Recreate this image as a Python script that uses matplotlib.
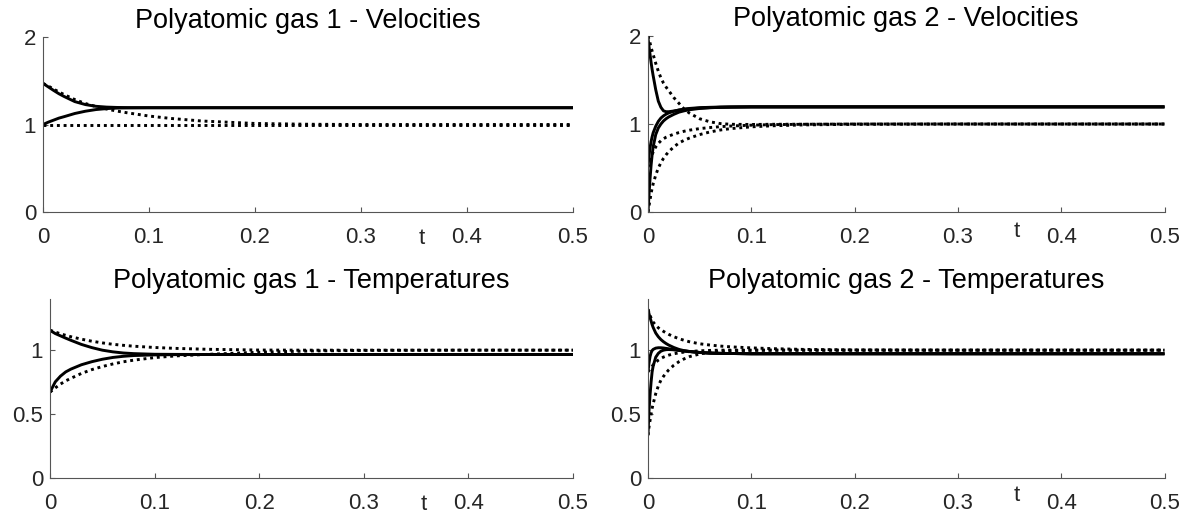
import matplotlib
matplotlib.use("Agg")
import matplotlib.pyplot as plt

plt.rcParams['font.family'] = ['Liberation Sans', 'DejaVu Sans']

# time grids (finer near t=0 where the relaxation is fast)
t_slow = [0, 0.005, 0.01, 0.015, 0.02, 0.03, 0.04, 0.05, 0.06, 0.07, 0.08,
          0.1, 0.12, 0.15, 0.2, 0.25, 0.3, 0.4, 0.5]
t_fast = [0, 0.001, 0.002, 0.003, 0.004, 0.005, 0.0075, 0.01, 0.0125, 0.015,
          0.0175, 0.02, 0.025, 0.03, 0.035, 0.04, 0.05, 0.06, 0.07, 0.08,
          0.1, 0.12, 0.15, 0.2, 0.3, 0.4, 0.5]

# gas 1 - velocities (solid: model, dotted: reference)
vel1_solid_a = [1.47, 1.43, 1.39, 1.352, 1.32, 1.262, 1.228, 1.208, 1.199, 1.195,
                1.193, 1.192, 1.192, 1.192, 1.192, 1.192, 1.192, 1.192, 1.192]
vel1_solid_b = [1.0, 1.027, 1.05, 1.073, 1.09, 1.126, 1.152, 1.171, 1.182, 1.188,
                1.19, 1.192, 1.192, 1.192, 1.192, 1.192, 1.192, 1.192, 1.192]
vel1_dot_a = [1.47, 1.44, 1.405, 1.372, 1.342, 1.285, 1.24, 1.205, 1.177, 1.153,
              1.133, 1.097, 1.07, 1.04, 1.012, 1.003, 1.0, 1.0, 1.0]
vel1_dot_b = [1.0] * 19

# gas 2 - velocities
vel2_solid_a = [1.98, 1.88, 1.79, 1.70, 1.62, 1.55, 1.39, 1.26, 1.19, 1.15, 1.14,
                1.14, 1.148, 1.158, 1.166, 1.172, 1.181, 1.187, 1.19, 1.192,
                1.195, 1.195, 1.195, 1.195, 1.195, 1.195, 1.195]
vel2_solid_b = [0.51, 0.64, 0.73, 0.80, 0.855, 0.90, 0.975, 1.03, 1.068, 1.093,
                1.112, 1.126, 1.145, 1.16, 1.17, 1.177, 1.186, 1.19, 1.193, 1.194,
                1.195, 1.195, 1.195, 1.195, 1.195, 1.195, 1.195]
vel2_solid_c = [0.0, 0.2, 0.38, 0.53, 0.65, 0.74, 0.88, 0.955, 1.0, 1.035, 1.06,
                1.08, 1.11, 1.135, 1.15, 1.162, 1.177, 1.185, 1.19, 1.193,
                1.195, 1.195, 1.195, 1.195, 1.195, 1.195, 1.195]
vel2_dot_a = [2.0, 1.96, 1.92, 1.87, 1.83, 1.79, 1.69, 1.6, 1.525, 1.465, 1.42,
              1.38, 1.3, 1.235, 1.17, 1.125, 1.06, 1.025, 1.005, 0.997,
              0.995, 0.997, 0.998, 0.999, 1.0, 1.0, 1.0]
vel2_dot_b = [0.51, 0.55, 0.59, 0.625, 0.655, 0.68, 0.74, 0.78, 0.81, 0.832, 0.85,
              0.862, 0.885, 0.903, 0.918, 0.93, 0.948, 0.96, 0.97, 0.977,
              0.987, 0.993, 0.997, 1.0, 1.0, 1.0, 1.0]
vel2_dot_c = [0.0, 0.07, 0.14, 0.21, 0.27, 0.32, 0.42, 0.5, 0.56, 0.61, 0.65,
              0.685, 0.74, 0.785, 0.815, 0.84, 0.88, 0.91, 0.932, 0.948,
              0.968, 0.98, 0.99, 0.997, 1.0, 1.0, 1.0]

# gas 1 - temperatures
temp1_solid_a = [1.155, 1.13, 1.112, 1.094, 1.077, 1.045, 1.02, 1.0, 0.987, 0.978,
                 0.973, 0.968, 0.967, 0.966, 0.966, 0.966, 0.966, 0.966, 0.966]
temp1_solid_b = [0.672, 0.752, 0.797, 0.83, 0.852, 0.886, 0.91, 0.929, 0.943, 0.952,
                 0.958, 0.963, 0.965, 0.966, 0.966, 0.966, 0.966, 0.966, 0.966]
temp1_dot_a = [1.156, 1.142, 1.128, 1.116, 1.105, 1.086, 1.07, 1.057, 1.046, 1.038,
               1.031, 1.021, 1.014, 1.007, 1.001, 1.0, 1.0, 1.0, 1.0]
temp1_dot_b = [0.672, 0.705, 0.735, 0.76, 0.78, 0.818, 0.848, 0.872, 0.892, 0.909,
               0.922, 0.942, 0.955, 0.967, 0.984, 0.994, 0.998, 1.0, 1.0]

# gas 2 - temperatures
temp2_solid_a = [1.32, 1.285, 1.255, 1.228, 1.2, 1.178, 1.134, 1.105, 1.083, 1.066,
                 1.052, 1.04, 1.021, 1.006, 0.996, 0.99, 0.982, 0.977, 0.975, 0.974,
                 0.972, 0.972, 0.972, 0.972, 0.972, 0.972, 0.972]
temp2_solid_b = [0.83, 0.9, 0.95, 0.98, 0.997, 1.006, 1.016, 1.019, 1.019, 1.017,
                 1.014, 1.011, 1.004, 0.998, 0.993, 0.989, 0.982, 0.977, 0.975, 0.974,
                 0.972, 0.972, 0.972, 0.972, 0.972, 0.972, 0.972]
temp2_solid_c = [0.335, 0.53, 0.65, 0.75, 0.83, 0.875, 0.945, 0.975, 0.992, 1.0,
                 1.004, 1.005, 1.003, 0.999, 0.994, 0.99, 0.982, 0.977, 0.975, 0.974,
                 0.972, 0.972, 0.972, 0.972, 0.972, 0.972, 0.972]
temp2_dot_a = [1.32, 1.295, 1.272, 1.252, 1.235, 1.22, 1.195, 1.175, 1.16, 1.147,
               1.135, 1.124, 1.105, 1.09, 1.077, 1.066, 1.05, 1.04, 1.032, 1.026,
               1.018, 1.012, 1.006, 1.002, 1.0, 1.0, 1.0]
temp2_dot_b = [0.83, 0.843, 0.855, 0.866, 0.875, 0.884, 0.905, 0.922, 0.935, 0.946,
               0.954, 0.961, 0.972, 0.979, 0.985, 0.989, 0.995, 0.998, 1.0, 1.0,
               1.0, 1.0, 1.0, 1.0, 1.0, 1.0, 1.0]
temp2_dot_c = [0.335, 0.4, 0.45, 0.5, 0.545, 0.58, 0.66, 0.72, 0.765, 0.795,
               0.822, 0.845, 0.882, 0.91, 0.932, 0.949, 0.97, 0.984, 0.992, 0.996,
               0.999, 1.0, 1.0, 1.0, 1.0, 1.0, 1.0]

x_ticks = [0, 0.1, 0.2, 0.3, 0.4, 0.5]
x_ticklabels = ["0", "0.1", "0.2", "0.3", "0.4", "0.5"]

TEXT = "#262626"
DOTTED = (0, (1, 1.3))

fig = plt.figure(figsize=(11.94, 5.17), dpi=100)

panels = [
    # position, title, t, solids, dotted, ylim, yticks, yticklabels, t-label height, title pad
    ([0.0360, 0.5899, 0.4439, 0.3385], "Polyatomic gas 1 - Velocities", t_slow,
     [vel1_solid_a, vel1_solid_b], [vel1_dot_a, vel1_dot_b],
     (0, 2), [0, 1, 2], ["0", "1", "2"], -0.150, 6.8),
    ([0.5427, 0.5899, 0.4326, 0.3404], "Polyatomic gas 2 - Velocities", t_fast,
     [vel2_solid_a, vel2_solid_b, vel2_solid_c], [vel2_dot_a, vel2_dot_b, vel2_dot_c],
     (0, 2), [0, 1, 2], ["0", "1", "2"], -0.112, 7.2),
    ([0.0419, 0.0754, 0.4380, 0.3462], "Polyatomic gas 1 - Temperatures", t_slow,
     [temp1_solid_a, temp1_solid_b], [temp1_dot_a, temp1_dot_b],
     (0, 1.4), [0, 0.5, 1], ["0", "0.5", "1"], -0.150, 8.0),
    ([0.5427, 0.0754, 0.4326, 0.3462], "Polyatomic gas 2 - Temperatures", t_fast,
     [temp2_solid_a, temp2_solid_b, temp2_solid_c], [temp2_dot_a, temp2_dot_b, temp2_dot_c],
     (0, 1.4), [0, 0.5, 1], ["0", "0.5", "1"], -0.100, 8.0),
]

for pos, title, t, solids, dots, ylim, yticks, yticklabels, t_y, tpad in panels:
    ax = fig.add_axes(pos)
    for y in dots:
        ax.plot(t, y, color="black", linewidth=2.1, linestyle=DOTTED,
                dash_capstyle="butt")
    for y in solids:
        ax.plot(t, y, color="black", linewidth=2.1, solid_capstyle="butt")

    ax.set_xlim(0, 0.5)
    ax.set_ylim(*ylim)
    ax.set_xticks(x_ticks)
    ax.set_xticklabels(x_ticklabels)
    ax.set_yticks(yticks)
    ax.set_yticklabels(yticklabels)

    for side in ("top", "right"):
        ax.spines[side].set_visible(False)
    for side in ("left", "bottom"):
        ax.spines[side].set_color("#555555")
        ax.spines[side].set_linewidth(0.8)

    ax.tick_params(direction="in", length=3.5, width=0.8, color="#555555",
                   labelsize=16, labelcolor=TEXT)
    ax.tick_params(axis="x", pad=10.5)
    ax.tick_params(axis="y", pad=5)

    ax.set_title(title, fontsize=19.5, color="black", pad=tpad)
    ax.text(0.357, t_y, "t", transform=ax.get_xaxis_transform(),
            ha="center", va="center", fontsize=16, color=TEXT)

fig.savefig("out.png", dpi=100)
